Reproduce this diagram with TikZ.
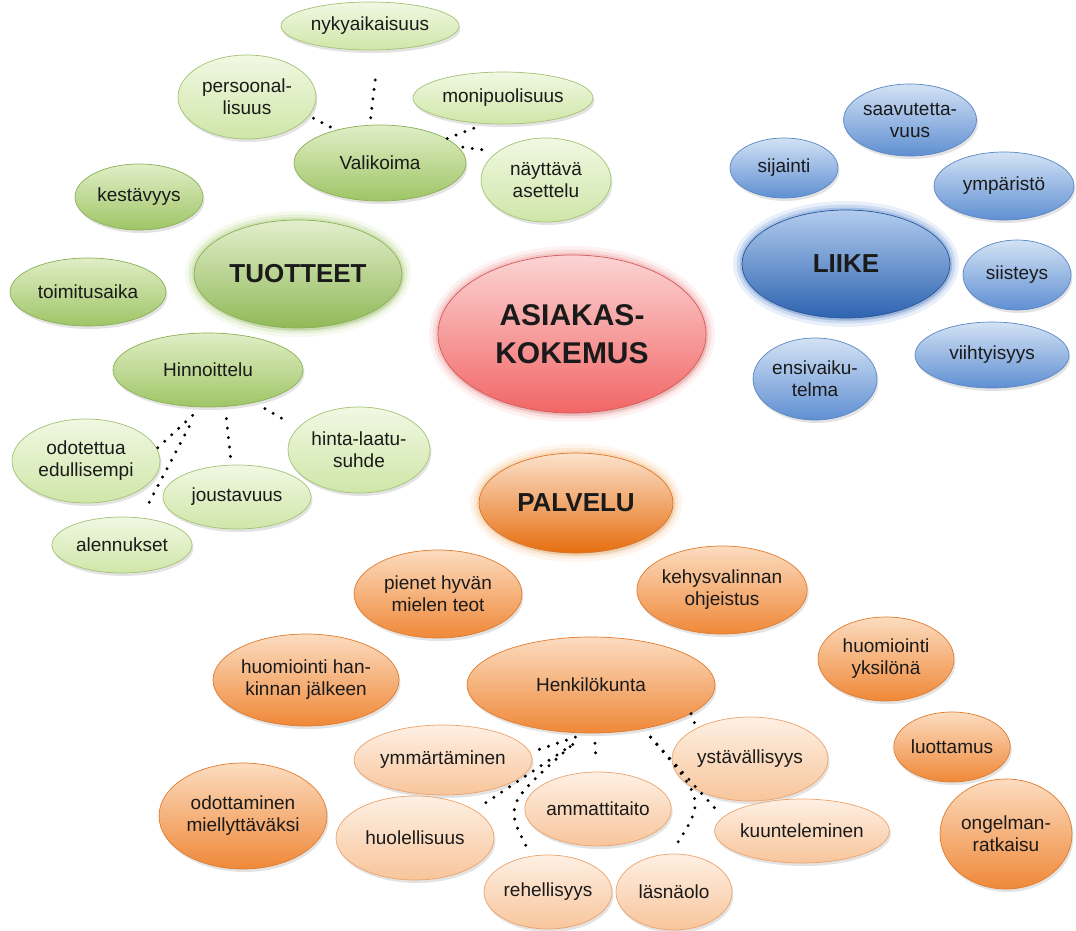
\documentclass[tikz,border=0pt]{standalone}
\usepackage{fontspec}
\setmainfont{Liberation Sans}
\usetikzlibrary{shapes.geometric,shadows}
\definecolor{txt}{HTML}{1A1A1A}
\definecolor{glT}{HTML}{F1F8E3}\definecolor{glD}{HTML}{CFE6A8}\definecolor{glB}{HTML}{A2C274}
\definecolor{gmT}{HTML}{E0EEC6}\definecolor{gmD}{HTML}{9FC566}\definecolor{gmB}{HTML}{8AB057}
\definecolor{gtT}{HTML}{E3EFCD}\definecolor{gtD}{HTML}{90B957}\definecolor{gGlow}{HTML}{B9D68E}
\definecolor{bT}{HTML}{D3E2F5}\definecolor{bD}{HTML}{5F8FD2}\definecolor{bB}{HTML}{5A86C2}
\definecolor{lT}{HTML}{B2CCEE}\definecolor{lD}{HTML}{2D63B0}\definecolor{lB}{HTML}{2A5699}\definecolor{lGlow}{HTML}{6F98D6}
\definecolor{rT}{HTML}{FCD4D4}\definecolor{rD}{HTML}{F26666}\definecolor{rB}{HTML}{D15A5A}\definecolor{rGlow}{HTML}{F0A0A0}
\definecolor{pT}{HTML}{FCE2CC}\definecolor{pD}{HTML}{E66E10}\definecolor{pB}{HTML}{D9742A}\definecolor{pGlow}{HTML}{F6C48F}
\definecolor{omT}{HTML}{FCDCC0}\definecolor{omD}{HTML}{EF8838}\definecolor{omB}{HTML}{E07B2E}
\definecolor{olT}{HTML}{FEF0E4}\definecolor{olD}{HTML}{F8C59B}\definecolor{olB}{HTML}{EBA36D}
\tikzset{
  bub/.style={ellipse, inner sep=0pt, align=center, text=txt, line width=0.7pt,
    font=\fontsize{19}{22}\selectfont,
    drop shadow={opacity=0.22, shadow xshift=1.5pt, shadow yshift=-3pt}},
  sz/.style 2 args={minimum width=#1pt, minimum height=#2pt},
  gl/.style={bub, draw=glB, top color=glT, bottom color=glD},
  gm/.style={bub, draw=gmB, top color=gmT, bottom color=gmD},
  bs/.style={bub, draw=bB, top color=bT, bottom color=bD},
  om/.style={bub, draw=omB, top color=omT, bottom color=omD},
  ol/.style={bub, draw=olB, top color=olT, bottom color=olD},
  big/.style={bub, font=\bfseries\fontsize{26}{30}\selectfont,
    preaction={draw=#1, line width=18pt, opacity=0.15},
    preaction={draw=#1, line width=11pt, opacity=0.25},
    preaction={draw=#1, line width=5pt, opacity=0.4}},
  dots/.style={draw=black, line width=3.3pt, line cap=round, dash pattern=on 0pt off 9.5pt},
}
\begin{document}
\begin{tikzpicture}[x=1pt, y=-1pt]
\useasboundingbox (0,0) rectangle (1076,931);
% ---------- green ----------
\node[gl, sz={178}{48}] (nyky) at (370,26) {nykyaikaisuus};
\node[gl, sz={138}{84}] (pers) at (247,97) {persoonal-\\lisuus};
\node[gl, sz={180}{52}] (moni) at (503,98) {monipuolisuus};
\node[gm, sz={172}{76}] (vali) at (380,163) {Valikoima};
\node[gl, sz={130}{84}] (nayt) at (546,180) {näyttävä\\asettelu};
\node[gm, sz={128}{66}] (kest) at (139,197) {kestävyys};
\node[big=gGlow, draw=gmB, top color=gtT, bottom color=gtD, sz={208}{108}] (tuot) at (298,274) {TUOTTEET};
\node[gm, sz={156}{68}] (toim) at (88,292) {toimitusaika};
\node[gm, sz={190}{74}] (hinn) at (208,370) {Hinnoittelu};
\node[gl, sz={148}{84}] (odot) at (86,461) {odotettua\\edullisempi};
\node[gl, sz={142}{86}] (hlaa) at (359,450) {hinta-laatu-\\suhde};
\node[gl, sz={148}{64}] (jous) at (237,497) {joustavuus};
\node[gl, sz={140}{56}] (alen) at (122,545) {alennukset};
% ---------- blue ----------
\node[bs, sz={108}{60}] (sija) at (784,168) {sijainti};
\node[bs, sz={130}{72}] (saav) at (910,120) {saavutetta-\\vuus};
\node[bs, sz={140}{68}] (ympa) at (1004,186) {ympäristö};
\node[big=lGlow, draw=lB, top color=lT, bottom color=lD, sz={208}{108}] (liik) at (846,264) {LIIKE};
\node[bs, sz={108}{70}] (siis) at (1017,275) {siisteys};
\node[bs, sz={154}{66}] (viih) at (992,355) {viihtyisyys};
\node[bs, sz={124}{82}] (ensi) at (815,379) {ensivaiku-\\telma};
% ---------- centre ----------
\node[big=rGlow, draw=rB, top color=rT, bottom color=rD, sz={268}{158},
  font=\bfseries\fontsize{30}{38}\selectfont] (asia) at (572,334) {ASIAKAS-\\KOKEMUS};
\node[big=pGlow, draw=pB, top color=pT, bottom color=pD, sz={194}{100}] (palv) at (576,503) {PALVELU};
% ---------- orange ----------
\node[om, sz={168}{88}] (pien) at (438,594) {pienet hyvän\\mielen teot};
\node[om, sz={156}{88}] (kehy) at (722,590) {kehysvalinnan\\ohjeistus};
\node[om, sz={186}{92}] (huoh) at (306,680) {huomiointi han-\\kinnan jälkeen};
\node[om, sz={248}{96}] (henk) at (591,685) {Henkilökunta};
\node[om, sz={136}{84}] (huoy) at (886,659) {huomiointi\\yksilönä};
\node[om, sz={114}{70}] (luot) at (952,747) {luottamus};
\node[om, sz={168}{106}] (odtm) at (243,816) {odottaminen\\miellyttäväksi};
\node[om, sz={132}{110}] (onge) at (1006,834) {ongelman-\\ratkaisu};
\node[ol, sz={178}{70}] (ymma) at (443,760) {ymmärtäminen};
\node[ol, sz={156}{84}] (ysta) at (750,759) {ystävällisyys};
\node[ol, sz={146}{74}] (amma) at (598,809) {ammattitaito};
\node[ol, sz={158}{84}] (huol) at (415,838) {huolellisuus};
\node[ol, sz={172}{64}] (kuun) at (802,831) {kuunteleminen};
\node[ol, sz={128}{74}] (rehe) at (548,892) {rehellisyys};
\node[ol, sz={116}{76}] (lasn) at (674,892) {läsnäolo};
% ---------- dotted connectors ----------
\draw[dots, shorten <=5pt] (pers.-17) -- (vali.143);
\draw[dots, shorten <=30pt, shorten >=3pt] (nyky.-70) -- (vali.105);
\draw[dots, shorten <=12pt] (moni.-125) -- (vali.20);
\draw[dots, shorten <=5pt, shorten >=8pt] (vali.12) -- (nayt.150);
\draw[dots, shorten <=12pt] (hinn.-100) -- (odot.10);
\draw[dots, shorten <=22pt, shorten >=12pt] (hinn.-103) -- (alen.55);
\draw[dots, shorten <=12pt, shorten >=7pt] (hinn.-65) -- (jous.100);
\draw[dots, shorten <=12pt, shorten >=13pt] (hinn.-35) -- (hlaa.160);
\draw[dots] (henk.-16) -- (ysta.150);
\draw[dots, shorten <=12pt, shorten >=5pt] (henk.-95) -- (ymma.5);
\draw[dots, shorten <=20pt, shorten >=12pt] (henk.-92) -- (huol.25);
\draw[dots, shorten <=20pt, shorten >=8pt] (henk.-97) .. controls (505,805) .. (rehe.115);
\draw[dots, shorten <=10pt, shorten >=12pt] (henk.-86) -- (amma.92);
\draw[dots, shorten <=11pt, shorten >=10pt] (henk.-40) -- (kuun.170);
\draw[dots, shorten <=11pt, shorten >=8pt] (henk.-40) .. controls (705,800) .. (lasn.95);
\end{tikzpicture}
\end{document}
